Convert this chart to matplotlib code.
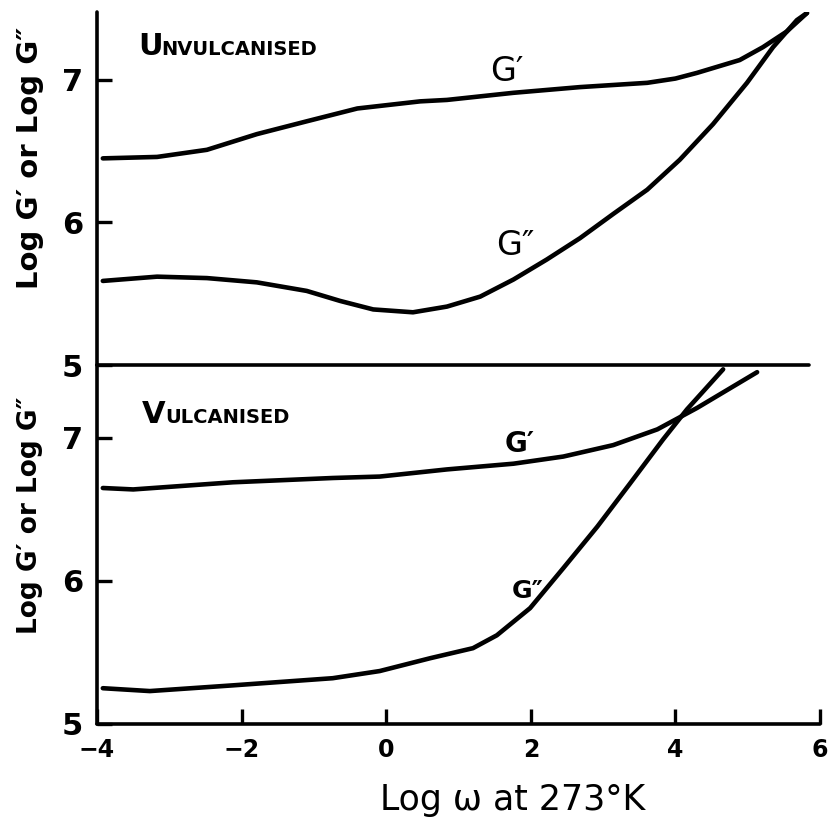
import matplotlib
matplotlib.use("Agg")
import matplotlib.pyplot as plt

plt.rcParams['font.family'] = ['DejaVu Sans']

# unvulcanised (top panel)
unv_x_g1 = [-3.92, -3.17, -2.48, -1.79, -1.10, -0.40, 0.47, 0.84, 1.76, 2.68,
            3.61, 4.00, 4.30, 4.89, 5.21, 5.54, 5.82]
unv_g1 = [6.45, 6.46, 6.51, 6.62, 6.71, 6.80, 6.85, 6.86, 6.91, 6.95,
          6.98, 7.01, 7.05, 7.14, 7.23, 7.34, 7.47]
unv_x_g2 = [-3.92, -3.17, -2.48, -1.79, -1.10, -0.64, -0.18, 0.37, 0.84, 1.30,
            1.76, 2.22, 2.68, 3.14, 3.61, 4.06, 4.52, 4.99, 5.35, 5.68, 5.82]
unv_g2 = [5.59, 5.62, 5.61, 5.58, 5.52, 5.45, 5.39, 5.37, 5.41, 5.48,
          5.60, 5.74, 5.89, 6.06, 6.23, 6.44, 6.69, 6.98, 7.23, 7.42, 7.47]

# vulcanised (bottom panel)
vul_x_g1 = [-3.92, -3.5, -2.12, -0.74, -0.09, 0.84, 1.76, 2.45, 3.14, 3.75,
            4.30, 5.13]
vul_g1 = [6.65, 6.64, 6.69, 6.72, 6.73, 6.78, 6.82, 6.87, 6.95, 7.06,
          7.21, 7.46]
vul_x_g2 = [-3.92, -3.27, -2.12, -0.74, -0.09, 0.61, 1.20, 1.53, 1.99, 2.45,
            2.92, 3.37, 3.83, 4.16, 4.66]
vul_g2 = [5.25, 5.23, 5.27, 5.32, 5.37, 5.46, 5.53, 5.62, 5.81, 6.09,
          6.38, 6.68, 6.99, 7.20, 7.48]

x_ticks = [-4, -2, 0, 2, 4, 6]
y_ticks = [5, 6, 7]
ylabel = "Log G\u2032 or Log G\u2033"

fig = plt.figure(figsize=(8.33, 8.33), dpi=100)
ax_top = fig.add_axes([0.1165, 0.5618, 0.8679, 0.4238])
ax_bot = fig.add_axes([0.1165, 0.1309, 0.8679, 0.4309])

line_kw = dict(color="black", lw=3.3, solid_capstyle="round", solid_joinstyle="round")
ax_top.plot(unv_x_g1, unv_g1, **line_kw)
ax_top.plot(unv_x_g2, unv_g2, **line_kw)
ax_bot.plot(vul_x_g1, vul_g1, **line_kw)
ax_bot.plot(vul_x_g2, vul_g2, **line_kw)

ax_top.set_ylim(5, 7.477)
ax_bot.set_ylim(5, 7.51)

for ax in (ax_top, ax_bot):
    ax.patch.set_visible(False)
    ax.set_xlim(-4, 6)
    for s in ("top", "right"):
        ax.spines[s].set_visible(False)
    for s in ("left", "bottom"):
        ax.spines[s].set_linewidth(2.6)
        ax.spines[s].set_capstyle("round")
    ax.set_yticks(y_ticks)
    ax.tick_params(axis="y", direction="in", length=11, width=2.4, pad=10,
                   labelsize=22)
    for lab in ax.get_yticklabels():
        lab.set_fontweight("bold")

ax_top.spines["bottom"].set_bounds(-4, 5.85)
ax_top.set_xticks([])
ax_bot.set_xticks(x_ticks)
ax_bot.set_xticklabels([str(t).replace("-", "\u2212") for t in x_ticks])
ax_bot.tick_params(axis="x", direction="in", length=11, width=2.4, pad=10,
                   labelsize=17)
for lab in ax_bot.get_xticklabels():
    lab.set_fontweight("bold")

# curve labels
ax_top.text(1.67, 7.06, "G\u2032", fontsize=24, ha="center", va="center")
ax_top.text(1.78, 5.84, "G\u2033", fontsize=24, ha="center", va="center")
ax_bot.text(1.85, 6.96, "G\u2032", fontsize=20, ha="center", va="center",
            fontweight="bold")
ax_bot.text(1.95, 5.93, "G\u2033", fontsize=18, ha="center", va="center",
            fontweight="bold")

# panel titles, small caps look
fig.text(138 / 833, 1 - 55 / 833, "U", fontsize=22, ha="left", va="baseline",
         fontweight="bold")
fig.text(161 / 833, 1 - 55 / 833, "NVULCANISED", fontsize=14, ha="left", va="baseline",
         fontweight="bold")
fig.text(142 / 833, 1 - 423 / 833, "V", fontsize=22, ha="left", va="baseline",
         fontweight="bold")
fig.text(165 / 833, 1 - 423 / 833, "ULCANISED", fontsize=14, ha="left", va="baseline",
         fontweight="bold")

fig.text(30 / 833, 1 - 158 / 833, ylabel, fontsize=21, rotation=90,
         ha="center", va="center", fontweight="bold")
fig.text(30 / 833, 1 - 515 / 833, ylabel, fontsize=19, rotation=90,
         ha="center", va="center", fontweight="bold")
fig.text(513 / 833, 1 - 800 / 833, "Log \u03c9 at 273\u00b0K", fontsize=25,
         ha="center", va="center")

fig.savefig("out.png", dpi=100, facecolor="white")
